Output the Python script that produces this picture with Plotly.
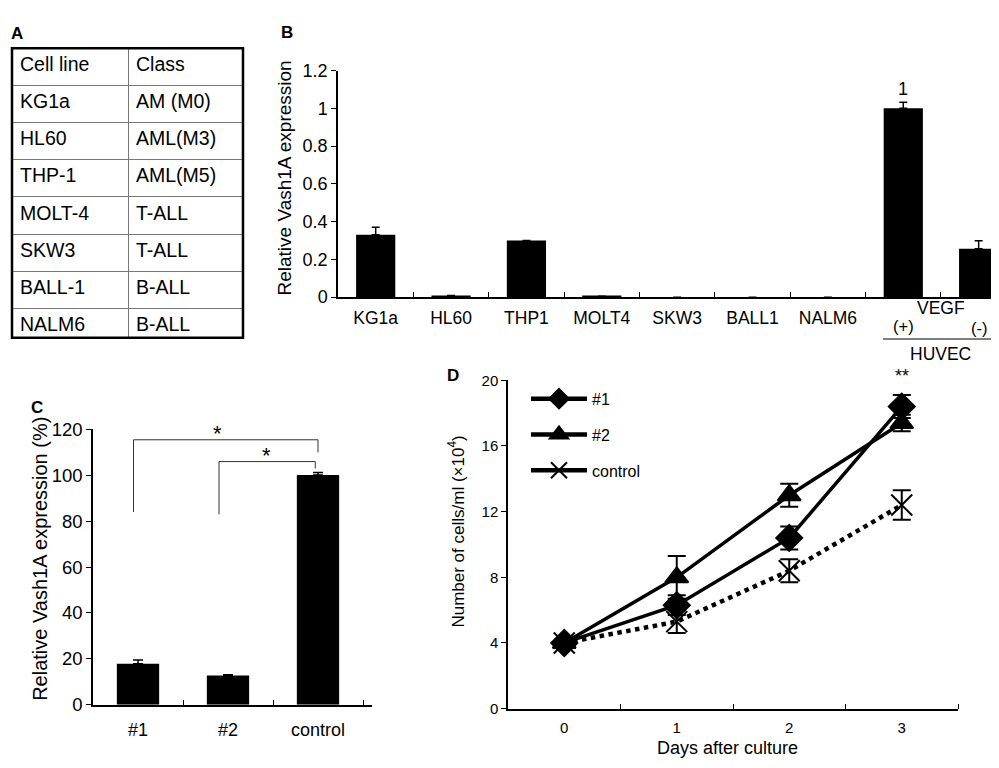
import plotly.graph_objects as go

W, H = 999, 768
OFF = 8  # page body margin of the browser
FONT = "Liberation Sans, Arial, sans-serif"


def px(x):
    return (x - OFF) / W


def py(y):
    return 1 - (y - OFF) / H


# ---------------- Panel A : table ----------------
table_header = ["Cell line", "Class"]
cell_lines = ["KG1a", "HL60", "THP-1", "MOLT-4", "SKW3", "BALL-1", "NALM6"]
classes = ["AM (M0)", "AML(M3)", "AML(M5)", "T-ALL", "T-ALL", "B-ALL", "B-ALL"]

# ---------------- Panel B ----------------
b_keys = ["KG1a", "HL60", "THP1", "MOLT4", "SKW3", "BALL1", "NALM6", "VEGF(+)", "VEGF(-)"]
b_labels = ["KG1a", "HL60", "THP1", "MOLT4", "SKW3", "BALL1", "NALM6", "", ""]
b_values = [0.33, 0.005, 0.30, 0.005, 0.0, 0.0, 0.0, 1.0, 0.256]
b_err = [0.04, 0.004, 0.0, 0.0, 0.0, 0.0, 0.0, 0.032, 0.043]
b_ticks = [0, 0.2, 0.4, 0.6, 0.8, 1.0, 1.2]

# ---------------- Panel C ----------------
c_cats = ["#1", "#2", "control"]
c_values = [17.9, 12.7, 100.2]
c_err = [1.6, 0.4, 1.0]
c_ticks = [0, 20, 40, 60, 80, 100, 120]

# ---------------- Panel D ----------------
days = [0, 1, 2, 3]
d_names = ["#1", "#2", "control"]
d1 = [4.0, 6.3, 10.4, 18.4]
d1_err = [0, 0.6, 0.7, 0.7]
d2 = [4.0, 8.0, 13.0, 17.4]
d2_err = [0, 1.3, 0.7, 0.5]
dc = [4.0, 5.3, 8.4, 12.4]
dc_err = [0, 0.7, 0.7, 0.9]
d_ticks = [0, 4, 8, 12, 16, 20]

TABLE_TOP = 38
ROW_H = 37.2
n_rows = len(cell_lines) + 1
TABLE_BOTTOM = TABLE_TOP + n_rows * ROW_H

fig = go.Figure()

# Table (panel A)
fig.add_trace(go.Table(
    domain=dict(x=[px(12), px(243)], y=[py(TABLE_BOTTOM + 0.5), py(TABLE_TOP)]),
    columnwidth=[116, 115],
    header=dict(values=table_header, align="left", height=ROW_H,
                font=dict(size=19.5, color="black", family=FONT),
                fill_color="white", line=dict(color="#777", width=1)),
    cells=dict(values=[cell_lines, classes], align="left", height=ROW_H,
               font=dict(size=19.5, color="black", family=FONT),
               fill_color="white", line=dict(color="#777", width=1)),
))

# Panel B bars
fig.add_trace(go.Bar(
    x=b_keys, y=b_values, width=0.52, marker=dict(color="black", line=dict(width=0)),
    error_y=dict(type="data", array=b_err, arrayminus=[0] * len(b_err), symmetric=False,
                 color="black", thickness=1.5, width=4),
    xaxis="x", yaxis="y", showlegend=False,
))

# Panel C bars
fig.add_trace(go.Bar(
    x=c_cats, y=c_values, width=0.47, marker=dict(color="black", line=dict(width=0)),
    error_y=dict(type="data", array=c_err, arrayminus=[0] * len(c_err), symmetric=False,
                 color="black", thickness=1.5, width=5),
    xaxis="x2", yaxis="y2", showlegend=False,
))

# Panel D lines
d_series = [
    (d_names[0], d1, d1_err, "diamond", 20, "solid", 3.5, 15),
    (d_names[1], d2, d2_err, "triangle-up", 20, "solid", 3.5, 16),
    (d_names[2], dc, dc_err, "x-thin-open", 21, "dot", 4.5, 16),
]
for name, ys, es, sym, size, dash, lw, lsize in d_series:
    fig.add_trace(go.Scatter(
        x=days, y=ys, mode="lines+markers", name=name,
        line=dict(color="black", width=lw, dash=dash),
        marker=dict(symbol=sym, size=size, color="black", line=dict(color="black", width=2)),
        error_y=dict(type="data", array=es, color="black", thickness=2, width=9),
        xaxis="x3", yaxis="y3", showlegend=False,
    ))
    # legend entry (solid sample as in the original legend)
    fig.add_trace(go.Scatter(
        x=[None], y=[None], mode="lines+markers", name=name, legendgroup=name,
        line=dict(color="black", width=4.5, dash="solid"),
        marker=dict(symbol=sym, size=lsize, color="black", line=dict(color="black", width=2)),
        xaxis="x3", yaxis="y3", showlegend=True,
    ))

axis_common = dict(showline=True, linecolor="black", linewidth=1.5, showgrid=False,
                   zeroline=False, tickcolor="black", mirror=False)

annotations = []
shapes = []


def note(text, x, y, size, xref="paper", yref="paper", angle=0, bold=False):
    annotations.append(dict(text=("<b>%s</b>" % text) if bold else text, x=x, y=y,
                            xref=xref, yref=yref, textangle=angle, showarrow=False,
                            xanchor="center", yanchor="middle",
                            font=dict(size=size, family=FONT, color="black")))


# Panel letters
for lab, x, y in [("A", 17, 23), ("B", 287, 22), ("C", 37, 407), ("D", 453, 375)]:
    note(lab, px(x), py(y), 17, bold=True)

# Axis titles
note("Relative Vash1A expression", px(285), py(172), 19, angle=-90)
note("Relative Vash1A expression (%)", px(40), py(563), 20, angle=-90)
note("Number of cells/ml (\u00d710<sup>4</sup>)", px(456), py(535), 17, angle=-90)
note("Days after culture", px(727), py(758), 18)

# Panel B HUVEC labels
note("1", 7, 1.1, 18, xref="x", yref="y")
note("VEGF", 7.5, py(305), 17.5, xref="x")
note("(+)", 7, py(324), 16.5, xref="x")
note("(-)", 8, py(326), 16.5, xref="x")
note("HUVEC", 7.5, py(352), 17.5, xref="x")
shapes.append(dict(type="line", xref="x", yref="paper", x0=6.73, x1=8.21, y0=py(337), y1=py(337),
                   line=dict(color="black", width=1.2)))

# Panel C significance brackets
for xl, xr, ytop, yl, yr in [(-0.05, 2.0, 115.5, 84, 110), (0.9, 1.97, 106, 83, 103)]:
    shapes.append(dict(type="path", xref="x2", yref="y2",
                       path="M %s,%s L %s,%s L %s,%s L %s,%s" % (xl, yl, xl, ytop, xr, ytop, xr, yr),
                       line=dict(color="#333", width=1)))
note("*", 0.88, py(434), 22, xref="x2")
note("*", 1.43, py(457), 22, xref="x2")

# Panel D significance
note("**", 3, py(375), 18, xref="x3")

# Table outer bold border
shapes.append(dict(type="rect", xref="paper", yref="paper", x0=px(12), x1=px(243),
                   y0=py(TABLE_BOTTOM), y1=py(TABLE_TOP),
                   line=dict(color="black", width=2.5)))

fig.update_layout(
    width=W, height=H, margin=dict(l=0, r=0, t=0, b=0),
    paper_bgcolor="white", plot_bgcolor="white",
    font=dict(family=FONT, color="black"),
    xaxis=dict(axis_common, domain=[px(338), px(999)], anchor="y", type="category",
               categoryorder="array", categoryarray=b_keys, range=[-0.5, 8.27],
               tickmode="array", tickvals=b_keys, ticktext=b_labels,
               ticks="inside", tickson="boundaries", ticklen=5, ticklabelstandoff=4,
               tickfont=dict(size=17.5)),
    yaxis=dict(axis_common, domain=[py(294), py(61)], anchor="x", range=[0, 1.2],
               tickmode="array", tickvals=b_ticks, ticks="outside", ticklen=5,
               tickfont=dict(size=18)),
    xaxis2=dict(axis_common, domain=[px(93), px(372)], anchor="y2", type="category",
                categoryorder="array", categoryarray=c_cats, range=[-0.5, 2.6],
                ticks="inside", tickson="boundaries", ticklen=5, ticklabelstandoff=8,
                tickfont=dict(size=18)),
    yaxis2=dict(axis_common, domain=[py(713), py(430)], anchor="x2", range=[0, 120],
                tickmode="array", tickvals=c_ticks, ticks="outside", ticklen=5,
                tickfont=dict(size=18.5)),
    xaxis3=dict(axis_common, domain=[px(508), px(958)], anchor="y3", range=[-0.5, 3.5],
                tickmode="array", tickvals=days, ticks="", ticklabelstandoff=5,
                minor=dict(tickmode="array", tickvals=[0.5, 1.5, 2.5, 3.5], ticks="inside",
                           ticklen=5, tickcolor="black"),
                tickfont=dict(size=15)),
    yaxis3=dict(axis_common, domain=[py(717), py(379.5)], anchor="x3", range=[0, 20],
                tickmode="array", tickvals=d_ticks, ticks="outside", ticklen=5,
                tickfont=dict(size=15)),
    showlegend=True,
    legend=dict(x=px(526), y=py(381), xanchor="left", yanchor="top", bgcolor="rgba(0,0,0,0)",
                font=dict(size=16, family=FONT), itemwidth=56, tracegroupgap=12,
                traceorder="grouped"),
    annotations=annotations, shapes=shapes,
)

fig.write_html("out.html")
